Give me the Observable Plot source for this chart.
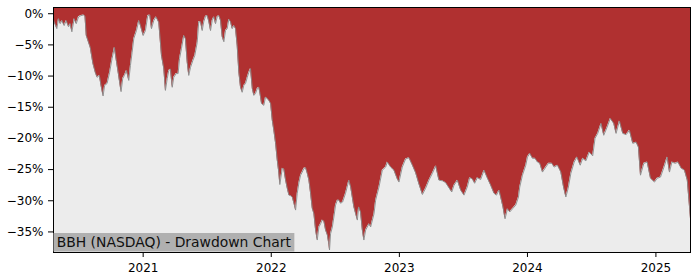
<!DOCTYPE html>
<html>
<head>
<meta charset="utf-8">
<script src="https://cdn.jsdelivr.net/npm/d3@7"></script>
<script src="https://cdn.jsdelivr.net/npm/@observablehq/plot@0.6"></script>
<style>
  html, body { margin: 0; padding: 0; background: #ffffff; }
  svg { display: block; }
</style>
</head>
<body>
<div id="chart"></div>
<script>
// Time as decimal years, drawdown in percent
const years = [
  2020.302, 2020.307, 2020.328, 2020.341, 2020.354, 2020.367, 2020.385, 2020.401, 2020.419, 2020.432,
  2020.445, 2020.463, 2020.479, 2020.497, 2020.516, 2020.536, 2020.547, 2020.557, 2020.575, 2020.588,
  2020.609, 2020.627, 2020.641, 2020.659, 2020.672, 2020.688, 2020.700, 2020.719, 2020.739, 2020.758,
  2020.776, 2020.791, 2020.809, 2020.828, 2020.841, 2020.854, 2020.870, 2020.888, 2020.901, 2020.914,
  2020.927, 2020.948, 2020.966, 2020.979, 2021.000, 2021.018, 2021.036, 2021.052, 2021.065, 2021.083,
  2021.100, 2021.122, 2021.143, 2021.161, 2021.174, 2021.188, 2021.200, 2021.213, 2021.227, 2021.239,
  2021.258, 2021.273, 2021.284, 2021.299, 2021.317, 2021.330, 2021.344, 2021.356, 2021.370, 2021.388,
  2021.403, 2021.422, 2021.434, 2021.448, 2021.461, 2021.473, 2021.487, 2021.500, 2021.513, 2021.526,
  2021.539, 2021.552, 2021.565, 2021.578, 2021.591, 2021.604, 2021.617, 2021.630, 2021.643, 2021.656,
  2021.669, 2021.682, 2021.695, 2021.708, 2021.721, 2021.734, 2021.747, 2021.760, 2021.773, 2021.786,
  2021.799, 2021.813, 2021.825, 2021.838, 2021.852, 2021.864, 2021.877, 2021.891, 2021.903, 2021.912,
  2021.924, 2021.942, 2021.955, 2021.969, 2021.981, 2021.995, 2022.008, 2022.020, 2022.034, 2022.047,
  2022.059, 2022.067, 2022.086, 2022.098, 2022.112, 2022.125, 2022.138, 2022.151, 2022.164, 2022.177,
  2022.190, 2022.203, 2022.216, 2022.229, 2022.242, 2022.255, 2022.268, 2022.281, 2022.294, 2022.307,
  2022.320, 2022.333, 2022.346, 2022.359, 2022.372, 2022.385, 2022.398, 2022.411, 2022.424, 2022.438,
  2022.450, 2022.455, 2022.463, 2022.477, 2022.489, 2022.502, 2022.516, 2022.528, 2022.541, 2022.557,
  2022.580, 2022.606, 2022.620, 2022.645, 2022.672, 2022.682, 2022.697, 2022.711, 2022.723, 2022.737,
  2022.763, 2022.776, 2022.802, 2022.815, 2022.841, 2022.867, 2022.893, 2022.906, 2022.932, 2022.958,
  2022.984, 2022.997, 2023.023, 2023.049, 2023.075, 2023.102, 2023.127, 2023.153, 2023.180, 2023.205,
  2023.231, 2023.258, 2023.284, 2023.309, 2023.336, 2023.362, 2023.409, 2023.427, 2023.453, 2023.479,
  2023.505, 2023.530, 2023.549, 2023.570, 2023.588, 2023.609, 2023.635, 2023.661, 2023.688, 2023.713,
  2023.739, 2023.758, 2023.778, 2023.791, 2023.809, 2023.825, 2023.844, 2023.862, 2023.883, 2023.909,
  2023.930, 2023.940, 2023.961, 2023.987, 2024.000, 2024.018, 2024.039, 2024.059, 2024.078, 2024.096,
  2024.117, 2024.143, 2024.164, 2024.190, 2024.208, 2024.234, 2024.260, 2024.281, 2024.299, 2024.317,
  2024.338, 2024.364, 2024.385, 2024.411, 2024.430, 2024.455, 2024.481, 2024.508, 2024.526, 2024.547,
  2024.573, 2024.594, 2024.620, 2024.645, 2024.672, 2024.690, 2024.716, 2024.742, 2024.768, 2024.794,
  2024.820, 2024.846, 2024.864, 2024.880, 2024.906, 2024.932, 2024.958, 2024.989, 2025.010, 2025.036,
  2025.063, 2025.088, 2025.106, 2025.125, 2025.151, 2025.172, 2025.198, 2025.223, 2025.245, 2025.258,
  2025.270
];
const drawdown = [
  -1.0, -1.3, -2.4, -0.8, -1.6, -1.1, -1.9, -1.1, -2.1, -1.6,
  -2.9, -0.8, -1.6, -0.5, -0.3, -0.2, -0.4, -3.5, -4.6, -5.4,
  -8.0, -9.4, -10.2, -9.9, -11.5, -13.2, -11.5, -11.2, -9.4, -7.2,
  -5.4, -7.5, -9.9, -12.5, -10.4, -9.9, -9.1, -10.7, -8.3, -6.2,
  -4.0, -2.7, -1.1, -1.9, -3.5, -2.7, -0.3, -0.2, -2.4, -1.1,
  -0.5, -1.4, -6.7, -8.8, -12.3, -10.4, -9.1, -8.9, -11.8, -10.2,
  -9.6, -9.6, -7.2, -5.6, -3.5, -4.0, -7.8, -9.9, -8.6, -7.5,
  -6.7, -4.6, -1.3, -1.3, -2.7, -1.3, -0.4, -0.3, -1.3, -2.7,
  -1.1, -0.5, -1.6, -0.5, -0.3, -1.1, -3.7, -4.5, -2.7, -2.4,
  -0.9, -1.3, -2.4, -1.9, -2.4, -5.1, -9.4, -11.8, -12.6, -11.5,
  -11.2, -10.2, -9.4, -8.8, -12.0, -13.1, -12.8, -12.0, -11.8, -12.8,
  -14.4, -14.7, -13.4, -13.6, -13.9, -14.4, -17.1, -18.7, -20.8, -23.5,
  -25.5, -27.4, -24.8, -24.9, -26.7, -28.0, -29.1, -29.2, -29.4, -30.4,
  -31.5, -28.8, -27.1, -25.9, -25.4, -24.8, -24.7, -25.6, -26.7, -28.8,
  -31.2, -32.1, -34.7, -36.3, -34.2, -33.7, -33.1, -33.3, -34.7, -35.5,
  -37.0, -37.9, -35.3, -34.2, -32.6, -30.7, -29.9, -29.9, -30.4, -30.2,
  -28.8, -26.7, -27.8, -31.0, -33.1, -31.0, -31.8, -34.7, -36.3, -34.7,
  -33.7, -34.2, -32.1, -29.9, -27.8, -25.1, -24.6, -23.8, -24.6, -25.1,
  -26.5, -27.0, -24.6, -23.3, -23.1, -24.3, -25.5, -27.3, -29.0, -28.0,
  -26.7, -25.6, -24.4, -26.7, -26.8, -27.1, -28.6, -27.5, -26.7, -28.3,
  -29.1, -27.8, -26.3, -26.5, -27.2, -26.3, -26.6, -25.1, -26.4, -27.5,
  -28.8, -29.1, -28.3, -29.4, -31.0, -32.9, -31.3, -31.8, -31.3, -30.7,
  -29.4, -27.8, -25.9, -24.3, -23.0, -22.4, -23.2, -23.2, -23.8, -24.0,
  -25.4, -24.6, -24.0, -24.0, -24.6, -24.3, -25.4, -27.8, -29.4, -28.0,
  -25.6, -23.8, -23.0, -24.3, -23.2, -23.6, -22.2, -22.8, -20.0, -19.2,
  -17.6, -19.5, -18.2, -16.8, -17.6, -19.2, -17.2, -19.2, -19.4, -18.7,
  -20.8, -20.6, -21.4, -25.9, -24.0, -23.8, -26.4, -27.0, -26.4, -26.2,
  -24.6, -23.0, -25.4, -23.8, -24.0, -23.8, -24.8, -25.1, -26.7, -29.9,
  -32.9
];
const tickYears = [2021, 2022, 2023, 2024, 2025];
const yTicks = [0, -5, -10, -15, -20, -25, -30, -35];
const yDomain = [-38.3, 1.0];
const titleText = "BBH (NASDAQ) - Drawdown Chart";

function yearToDate(t) {
  const y = Math.floor(t);
  const a = Date.UTC(y, 0, 1), b = Date.UTC(y + 1, 0, 1);
  return new Date(a + (t - y) * (b - a));
}

const data = years.map((t, i) => ({date: yearToDate(t), dd: drawdown[i]}));
const xTicks = tickYears.map(y => new Date(Date.UTC(y, 0, 1)));
const fmtPct = d => (d < 0 ? "\u2212" + Math.abs(d) : String(d)) + "%";

const svg = Plot.plot({
  width: 700,
  height: 280,
  marginLeft: 53,
  marginRight: 10,
  marginTop: 7,
  marginBottom: 28,
  style: {fontFamily: "DejaVu Sans", fontSize: "12px", color: "black", background: "white"},
  x: {type: "utc", domain: d3.extent(data, d => d.date), label: null},
  y: {domain: yDomain, label: null},
  marks: [
    Plot.frame({fill: "#ececec", stroke: null}),
    Plot.areaY(data, {x: "date", y1: "dd", y2: yDomain[1], fill: "#b03030"}),
    Plot.lineY(data, {x: "date", y: "dd", stroke: "#8a8a8a", strokeWidth: 0.9}),
    Plot.frame({stroke: "black", strokeWidth: 1}),
    Plot.axisX({ticks: xTicks, tickFormat: d3.utcFormat("%Y"), tickSize: 5, tickPadding: 5.5, fontSize: 12, label: null}),
    Plot.axisY({ticks: yTicks, tickFormat: fmtPct, tickSize: 5, tickPadding: 5, fontSize: 12, label: null})
  ]
});
document.getElementById("chart").appendChild(svg);

// Title label box at bottom-left of the plot area
const g = d3.select(svg).append("g").attr("text-anchor", "start");
const rect = g.append("rect").attr("fill", "#b0b0b0");
const txt = g.append("text")
  .attr("x", 56.7).attr("y", 247)
  .attr("text-anchor", "start")
  .attr("font-family", "DejaVu Sans").attr("font-size", 13.9)
  .attr("fill", "#111").text(titleText);
const bb = txt.node().getBBox();
rect.attr("x", 53.5).attr("y", 233).attr("width", bb.width + 6).attr("height", 18.5);
</script>
</body>
</html>
